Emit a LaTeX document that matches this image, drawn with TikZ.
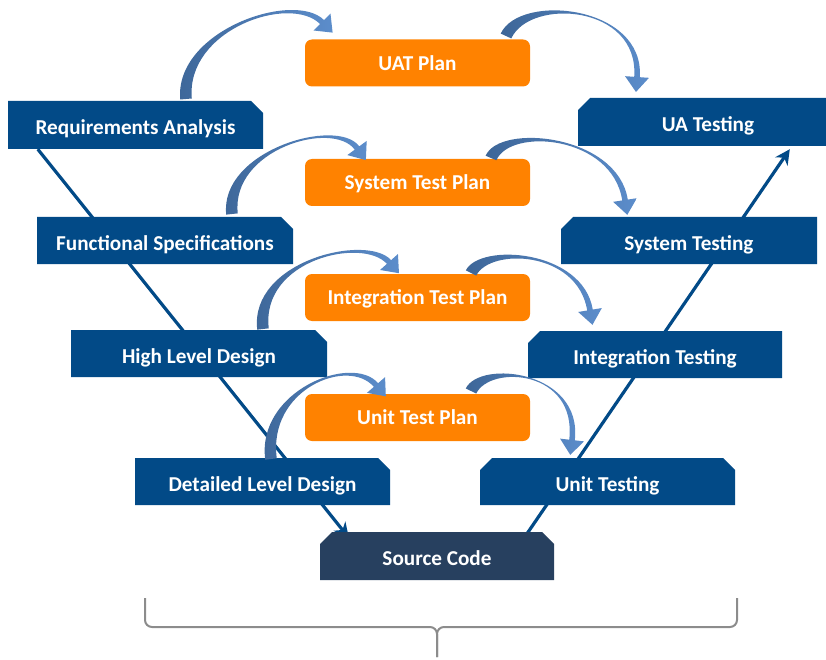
\documentclass[tikz,border=0pt]{standalone}
\usepackage{fontspec}
\setmainfont{Carlito}
\usetikzlibrary{shapes.misc,calc,arrows.meta}
\pgfdeclarelayer{bg}
\pgfsetlayers{bg,main}
\definecolor{boxblue}{HTML}{024A87}
\definecolor{srcblue}{HTML}{27405F}
\definecolor{orng}{HTML}{FF8200}
\definecolor{adark}{HTML}{3D6698}
\definecolor{alight}{HTML}{5C8DCB}
\definecolor{bracegray}{HTML}{8C8C8C}
\tikzset{
  bluebox/.style={chamfered rectangle, chamfered rectangle xsep=6pt, chamfered rectangle ysep=6pt,
    fill=boxblue, text=white, inner sep=0pt, minimum height=47pt,
    text height=19.5pt, text depth=0pt,
    font=\fontsize{21.2}{24}\selectfont\bfseries},
  plan/.style={rectangle, rounded corners=7pt, fill=orng, text=white, inner sep=0pt,
    text height=14.5pt, text depth=0pt,
    minimum width=225pt, minimum height=47pt, font=\fontsize{21.2}{24}\selectfont\bfseries},
  vline/.style={draw=boxblue, line width=3.2pt},
  brc/.style={draw=bracegray, line width=2pt, rounded corners=7pt},
}
\newcommand\curvarrow[4]{%
  \coordinate (cT) at #1; \coordinate (cA) at #2; \coordinate (cB) at #3; \coordinate (cE) at #4;
  \coordinate (tA) at ($(cT)!5.8pt!90:(cA)$);
  \coordinate (tB) at ($(cT)!5.8pt!-90:(cA)$);
  \coordinate (eA) at ($(cE)!2.8pt!-90:(cB)$);
  \coordinate (eB) at ($(cE)!2.8pt!90:(cB)$);
  \coordinate (kA) at ($(cA)+(tA)-(cT)$);
  \coordinate (kB) at ($(cA)+(tB)-(cT)$);
  \coordinate (mA) at ($(cB)+(eA)-(cE)$);
  \coordinate (mB) at ($(cB)+(eB)-(cE)$);
  \coordinate (wA) at ($(cE)!12pt!-90:(cB)$);
  \coordinate (wB) at ($(cE)!12pt!90:(cB)$);
  \coordinate (tp) at ($(cE)!-15pt!(cB)$);
  \shade[left color=adark, right color=alight]
    (tA) .. controls (kA) and (mA) .. (eA) -- (wA) -- (tp) -- (wB) -- (eB)
    .. controls (mB) and (kB) .. (tB) -- cycle;
}
\begin{document}
\begin{tikzpicture}[x=1pt,y=-1pt]
\useasboundingbox (0,0) rectangle (826,660);
% left column
\node[bluebox, chamfered rectangle corners=north east, minimum width=255pt, minimum height=48pt] (req) at (135.5,125) {Requirements Analysis};
\node[bluebox, chamfered rectangle corners=north east, minimum width=256pt] (fun) at (165,240.5) {Functional Specifications};
\node[bluebox, chamfered rectangle corners=north east, minimum width=256pt] (hld) at (199,353.5) {High Level Design};
\node[bluebox, chamfered rectangle corners=north east, minimum width=255pt] (dld) at (262.5,481.5) {Detailed Level Design};
% bottom
\node[bluebox, fill=srcblue, chamfered rectangle corners={north east,north west}, minimum width=234pt, minimum height=48pt] (src) at (437,556) {Source Code};
% right column
\node[bluebox, chamfered rectangle corners={north west,north east}, minimum width=255pt] (ut) at (607.5,481.5) {Unit Testing};
\node[bluebox, chamfered rectangle corners=north west, minimum width=254pt] (it) at (655,354.5) {Integration Testing};
\node[bluebox, chamfered rectangle corners=north west, minimum width=256pt] (st) at (689,240.5) {System Testing};
\node[bluebox, chamfered rectangle corners=north west, minimum width=260pt, minimum height=48pt] (uat) at (708,122) {UA Testing};
% plans
\node[plan] (uatp) at (417.5,63) {UAT Plan};
\node[plan] (stp) at (417.5,182.5) {System Test Plan};
\node[plan] (itp) at (417.5,297.5) {Integration Test Plan};
\node[plan] (utp) at (417.5,417.5) {Unit Test Plan};
% V lines (behind boxes)
\coordinate (vtop) at ($(uat.south west)+(212,3)$);
\begin{pgfonlayer}{bg}
\draw[vline,-{Stealth[length=15pt,width=15pt]}] ($(req.south west)+(30,0)$) -- ($(src.north west)+(23,0)$);
\draw[vline,-{Stealth[length=15pt,width=15pt]}] ($(src.north east)+(-24,0)$) -- (vtop);
\end{pgfonlayer}
% curved arrows
\curvarrow{(186,99)}{(180,30)}{(292,-8)}{(322,22)}
\curvarrow{(506,36)}{(525,-5)}{(642,5)}{(637,77)}
\curvarrow{(232,214)}{(225,150)}{(335,118)}{(357,148)}
\curvarrow{(491,158)}{(505,125)}{(615,135)}{(625,200)}
\curvarrow{(263,329)}{(255,260)}{(365,235)}{(389,262)}
\curvarrow{(471,273)}{(485,245)}{(580,250)}{(590,310)}
\curvarrow{(271,459)}{(262,390)}{(350,355)}{(376,385)}
\curvarrow{(471,391)}{(485,362)}{(580,370)}{(572,440)}
% brace
\coordinate (bl) at (145,598);
\coordinate (br) at (737,598);
\coordinate (bm) at (437,627);
\coordinate (btip) at (437,657);
\draw[brc] (bl) |- (bm) -- (btip);
\draw[brc] (br) |- (bm) -- (btip);
\end{tikzpicture}
\end{document}
